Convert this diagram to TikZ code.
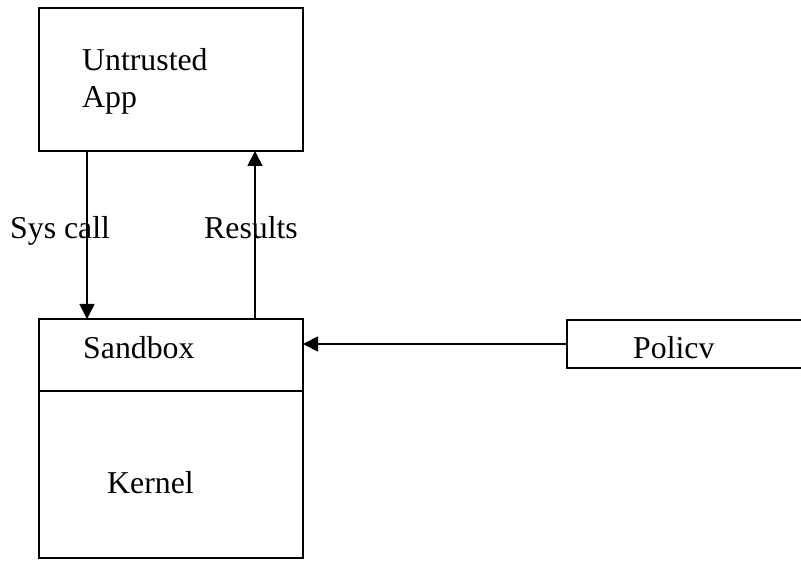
\documentclass[tikz,border=0pt]{standalone}
\usepackage{fontspec}
\setmainfont{Liberation Serif}
\usetikzlibrary{arrows.meta}
\tikzset{
  box/.style={draw, line width=1.9pt, rectangle, inner sep=0pt, outer sep=0pt, anchor=north west},
  lbl/.style={anchor=base west, inner sep=0pt, font=\fontsize{31.8}{36}\selectfont},
  arr/.style={line width=1.7pt, -{Triangle[length=15pt,width=15pt]}},
  ln/.style={line width=1.9pt}
}
\begin{document}
\begin{tikzpicture}[x=1pt,y=-1pt]
\useasboundingbox (0,0) rectangle (801,561);
% boxes
\node[box, minimum width=264pt, minimum height=143pt] (app) at (39,8) {};
\node[box, minimum width=264pt, minimum height=72pt] (sb) at (39,319) {};
\node[box, minimum width=264pt, minimum height=167pt] (kn) at (39,391) {};
% policy box (open on the right)
\coordinate (ptr) at (803,320);
\coordinate (ptl) at (567,320);
\coordinate (pbl) at (567,368);
\coordinate (pbr) at (803,368);
\coordinate (pol) at (567,344);
\draw[ln] (ptr) -- (ptl) -- (pbl) -- (pbr);
% texts
\node[lbl] (t1) at (82,71) {Untrusted};
\node[lbl] (t2) at (82,108) {App};
\node[lbl] (t3) at (83,359) {Sandbox};
\node[lbl] (t4) at (107,493) {Kernel};
\node[lbl] (t5) at (633,359) {Policv};
% connectors
\coordinate (scx) at (87,0);
\coordinate (rsx) at (255,0);
\draw[arr] (app.south -| scx) -- (sb.north -| scx);
\draw[arr] (sb.north -| rsx) -- (app.south -| rsx);
\draw[arr] (pol) -- (sb.east |- pol);
\node[lbl] (l1) at (10,239) {Sys call};
\node[lbl] (l2) at (204,239) {Results};
\end{tikzpicture}
\end{document}
